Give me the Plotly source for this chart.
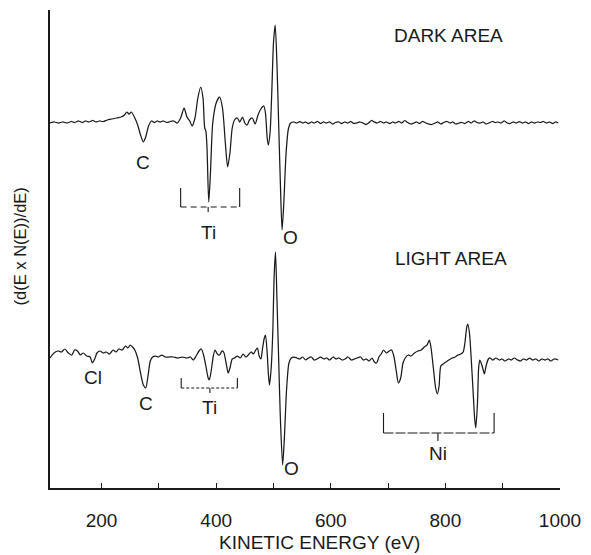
import plotly.graph_objects as go

# Auger derivative spectra, d(E x N(E))/dE vs kinetic energy (eV), arbitrary units.
# Each spectrum is relative to its own baseline; the two are stacked with an offset.

dark_energy = [
    110, 118, 125, 132, 140, 147, 153, 160, 166, 172, 178, 185, 190, 196, 203, 210,
    218, 226, 234, 240, 244, 248, 252, 258, 263, 268, 273, 277, 282, 287, 292, 297,
    302, 308, 314, 320, 326, 332, 338, 344, 349, 354, 358, 363, 368, 373, 377, 380,
    382, 384, 387, 390, 394, 400, 406, 411, 416, 420, 424, 428, 432, 437, 441, 446,
    450, 454, 458, 463, 468, 473, 478, 483, 486, 489, 491, 494, 497, 500, 503, 506,
    509, 512, 515, 518, 522, 526, 530,
    535, 541, 546, 551, 556, 561, 566, 571, 577, 582, 587, 592, 598, 603, 608, 614,
    619, 624, 630, 635, 640, 645, 651, 656, 661, 666, 671, 676, 681, 687, 692, 697,
    703, 708, 713, 719, 724, 729, 734, 740, 745, 750, 755, 760, 766, 771, 776, 782,
    787, 792, 797, 803, 808, 813, 818, 824, 829, 834, 840, 845, 850, 855, 861, 866,
    871, 876, 882, 887, 892, 897, 903, 908, 913, 918, 924, 929, 934, 940, 945, 950,
    955, 961, 966, 971, 976, 982, 987, 992, 997,
]
dark_signal = [
    0, 1, 0, 1, 0, 1.5, 0.5, 2, 0.5, 2, 1, 2.5, 1, 2, 1.5, 3,
    4, 5, 6, 8, 11, 9, 11, 5, -2, -12, -19, -14, -3, 2, 0.5, 2,
    1, 2, 0.5, 1.5, 2, 0, 5, 15, 6, 2, -3, 5, 25, 36, 25, -5,
    -8, -25, -79, -50, 0, 20, 26, 15, -20, -44, -30, -5, 3, 5, 1, 6,
    0, -2, 3, 5, -1, 8, 14, 17, 10, -15, -22, -10, 30, 80, 98, 60,
    0, -60, -107, -80, -30, -6, 0,
    1, 0, 1.5, 0, 1, -0.5, 1, 0, 1.5, -0.5, 1, 0, 1, -1, 0.5, 1,
    -0.5, 1, 0, 1.5, -0.5, 0, 1, 0, -1.5, 0, 2.5, 1, 0, 1.5, 0, 1,
    -0.5, 1, 0, 1.5, 0, 2.5, 0.5, -1, 0, 1, -0.5, 1.5, 0, -1, -1.5, 0,
    1, -1, 0.5, 1.5, 0, 1, -1, 0, 0.5, -0.5, 1.5, 0, 2, 0.5, 0, 1,
    -1, 0, 1.5, 0.5, 1, 0, 2, 0, -0.5, 1, 0, 1.5, 0, 1, -0.5, 1,
    0, 1, 0.5, 1.5, 0, 1, -0.5, 1, 0,
]

light_energy = [
    110, 117, 124, 130, 136, 142, 148, 153, 158, 163, 168, 174, 180, 184, 188, 192,
    197, 203, 208, 214, 220, 225, 230, 236, 242, 246, 250, 254, 258, 263, 268, 273,
    277, 281, 285, 289, 294, 299, 305, 311, 317, 325, 333, 341, 349, 355, 360, 365,
    370, 374, 378, 382, 386, 388, 391, 395, 398, 402, 406, 410, 413, 417, 421, 424,
    428, 432, 437, 442, 447, 452, 456, 461, 465, 469, 472, 475, 478, 481, 484, 486,
    489, 491, 493, 496, 499, 501, 503.5, 506, 509, 512, 516, 519, 523, 527, 531, 536,
    541, 546, 551, 556, 561, 566, 571, 576, 582, 588, 593, 598, 604, 609, 614, 620,
    625, 630, 636, 641, 646, 652, 657, 662, 667, 672, 676, 680, 684, 688, 692, 697,
    702, 706, 710, 714, 718, 722, 726, 730, 735, 740, 746, 752, 758, 763, 768, 772,
    775, 779, 783, 786, 789, 792, 796, 801, 806, 812, 817, 822, 827, 831, 834, 837,
    839, 842, 845, 848, 851, 853, 856, 858, 860, 863, 866, 868, 871, 875, 878, 883,
    888, 894, 899, 904, 910, 915, 920, 926, 931, 936, 942, 947, 952, 958, 963, 968,
    974, 979, 984, 990, 997,
]
light_signal = [
    0, 5, 7, 6, 9, 5, 3, 8, 7, 3, 5, 2, 1, -5, -1, 5,
    7, 5, 6, 4, 8, 6, 9, 8, 12, 10, 13, 11, 8, 0, -15, -27,
    -30, -18, -3, 1, 2, 1, 3, 1, 1, 1, 0, 1, 0, 1, -2, 2,
    7, 9, 3, -8, -20, -22, -14, 2, 8, 4, 3, 7, 6, -4, -15, -10,
    -1, 0, 2, 0, 4, 1, 3, 6, 4, 8, 10, 2, -1, 10, 20, 23,
    5, -15, -27, -10, 30, 80, 106, 60, 0, -60, -107, -80, -30, -5, 0, 1,
    0, -1, 1, -2, 0, 1, -2, -1, 1, -1, 0, -2, 1, -1, 0, -2,
    -1, 1, -2, -1, 0, 1, -2, -1, -3, 0, -4, -5, 1, 4, 8, 5,
    7, 8, 2, -12, -25, -20, -5, 0, 3, 2, 5, 7, 8, 11, 13, 18,
    10, -10, -30, -36, -28, -8, -6, -4, -2, 0, 1, 3, 4, 6, 15, 30,
    34, 25, 0, -30, -60, -70, -45, -10, -2, -6, -12, -16, -8, -1, 0, -2,
    0, -2, -1, -3, -1, -2, 0, -2, -3, -1, -2, 0, -2, -1, -3, -1,
    -2, -1, -3, -1, -2,
]

dark_offset = 365
light_offset = 130

tick_values = [200, 300, 400, 500, 600, 700, 800, 900, 1000]
tick_labels = ["200", "", "400", "", "600", "", "800", "", "1000"]

ink = "#1a1a1a"
font_family = "Liberation Sans, Arial, sans-serif"

fig = go.Figure()
fig.add_trace(go.Scatter(
    x=dark_energy, y=[v + dark_offset for v in dark_signal],
    mode="lines", line=dict(color=ink, width=1.25, shape="spline", smoothing=0.7),
    hoverinfo="skip", showlegend=False,
))
fig.add_trace(go.Scatter(
    x=light_energy, y=[v + light_offset for v in light_signal],
    mode="lines", line=dict(color=ink, width=1.25, shape="spline", smoothing=0.7),
    hoverinfo="skip", showlegend=False,
))


def bracket(x0, x1, xc, y, top, tick_end, dash):
    """Element bracket: two end posts, a bar and a centre tick."""
    style = dict(color=ink, width=1.1, dash=dash)
    fig.add_shape(type="line", x0=x0, x1=x1, y0=y, y1=y, line=style)
    fig.add_shape(type="line", x0=x0, x1=x0, y0=y, y1=top, line=dict(color=ink, width=1.1))
    fig.add_shape(type="line", x0=x1, x1=x1, y0=y, y1=top, line=dict(color=ink, width=1.1))
    fig.add_shape(type="line", x0=xc, x1=xc, y0=y, y1=tick_end, line=dict(color=ink, width=1.1))


bracket(338, 441, 386, 281, 300, 276, "6px,4px")
bracket(339, 437, 389, 100, 110, 95, "3px,2px")
bracket(692, 885, 787, 55, 75, 47, "10px,2px")

labels = [
    ("DARK AREA", 806, 453),
    ("LIGHT AREA", 809, 230),
    ("C", 272, 326),
    ("Ti", 386, 256),
    ("O", 529, 251),
    ("Cl", 184.5, 111),
    ("C", 277.5, 85),
    ("Ti", 389, 81),
    ("O", 532, 20),
    ("Ni", 787, 35),
]
for text, x, y in labels:
    fig.add_annotation(x=x, y=y, text=text, showarrow=False,
                       font=dict(size=19, color=ink, family=font_family))

fig.add_annotation(xref="paper", yref="paper", x=0.5 + 15 / 517, y=-0.115,
                   text="KINETIC ENERGY (eV)", showarrow=False, yanchor="middle",
                   font=dict(size=19, color=ink, family=font_family))
fig.add_annotation(xref="paper", yref="paper", x=-30 / 517, y=(488 - 246) / 478,
                   text="(d(E x N(E))/dE)", showarrow=False, textangle=-90,
                   xanchor="center", yanchor="middle",
                   font=dict(size=16.5, color=ink, family=font_family))

fig.update_layout(
    width=591, height=555,
    margin=dict(l=50, r=24, t=10, b=67),
    paper_bgcolor="white", plot_bgcolor="white",
    font=dict(family=font_family, color=ink),
)
fig.update_xaxes(
    range=[110, 1000], showgrid=False, zeroline=False,
    showline=True, linecolor=ink, linewidth=1.5,
    tickmode="array", tickvals=tick_values, ticktext=tick_labels,
    ticks="inside", ticklen=5, tickwidth=1.2, tickcolor=ink,
    tickfont=dict(size=19, color=ink, family=font_family),
    ticklabelstandoff=14,
)
fig.update_yaxes(
    range=[0, 478], showgrid=False, zeroline=False,
    showline=True, linecolor=ink, linewidth=1.5,
    showticklabels=False, ticks="",
)

fig.write_html("out.html")
